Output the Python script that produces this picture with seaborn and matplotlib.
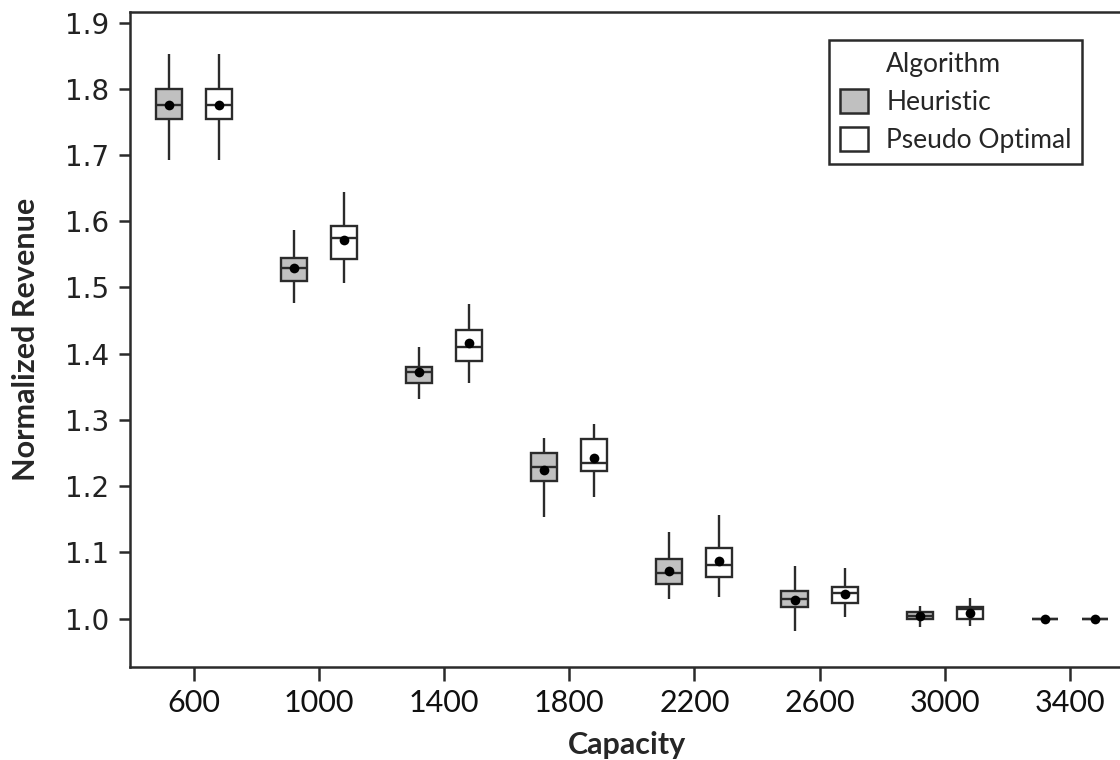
import numpy as np
import pandas as pd
import matplotlib
matplotlib.use("Agg")
import matplotlib.pyplot as plt
from matplotlib.patches import Patch
import seaborn as sns

# capacity levels on the x axis
capacities = [600, 1000, 1400, 1800, 2200, 2600, 3000, 3400]
algorithms = ["Heuristic", "Pseudo Optimal"]

# box summaries (whisker low, q1, median, q3, whisker high, mean)
heur_low = [1.693, 1.476, 1.331, 1.153, 1.029, 0.981, 0.987, 1.000]
heur_q1 = [1.755, 1.510, 1.356, 1.208, 1.052, 1.018, 0.999, 1.000]
heur_median = [1.776, 1.529, 1.372, 1.229, 1.069, 1.030, 1.004, 1.000]
heur_q3 = [1.800, 1.544, 1.380, 1.250, 1.090, 1.042, 1.010, 1.000]
heur_high = [1.852, 1.587, 1.410, 1.272, 1.130, 1.079, 1.019, 1.000]
heur_mean = [1.776, 1.529, 1.372, 1.224, 1.072, 1.028, 1.004, 1.000]

pseudo_low = [1.693, 1.506, 1.355, 1.183, 1.032, 1.002, 0.989, 1.000]
pseudo_q1 = [1.755, 1.543, 1.389, 1.223, 1.063, 1.024, 0.999, 1.000]
pseudo_median = [1.776, 1.574, 1.410, 1.235, 1.081, 1.039, 1.014, 1.000]
pseudo_q3 = [1.800, 1.592, 1.435, 1.271, 1.106, 1.048, 1.018, 1.000]
pseudo_high = [1.852, 1.644, 1.475, 1.293, 1.157, 1.076, 1.031, 1.000]
pseudo_mean = [1.775, 1.572, 1.416, 1.243, 1.087, 1.037, 1.009, 1.000]

y_ticks = [1.0, 1.1, 1.2, 1.3, 1.4, 1.5, 1.6, 1.7, 1.8, 1.9]

# five values per box -> quartiles land exactly on q1/median/q3
rows = []
summaries = {
    "Heuristic": (heur_low, heur_q1, heur_median, heur_q3, heur_high),
    "Pseudo Optimal": (pseudo_low, pseudo_q1, pseudo_median, pseudo_q3, pseudo_high),
}
for alg, parts in summaries.items():
    for i, cap in enumerate(capacities):
        for p in parts:
            rows.append({"Capacity": cap, "Algorithm": alg, "Revenue": p[i]})
df = pd.DataFrame(rows)

means = pd.DataFrame({
    "Capacity": capacities * 2,
    "Algorithm": ["Heuristic"] * len(capacities) + ["Pseudo Optimal"] * len(capacities),
    "Revenue": heur_mean + pseudo_mean,
})

sns.set_style("ticks")
plt.rcParams["font.family"] = ["Lato", "DejaVu Sans"]
edge = "#2b2b2b"
fills = {"Heuristic": "#c0c0c0", "Pseudo Optimal": "white"}

fig = plt.figure(figsize=(11.2, 7.6), dpi=100)
ax = fig.add_axes([130 / 1120, 1 - 667 / 760, (1124 - 130) / 1120, (667 - 12) / 760])

sns.boxplot(data=df, x="Capacity", y="Revenue", hue="Algorithm",
            order=capacities, hue_order=algorithms, palette=fills,
            width=0.8, gap=0.48, dodge=True, whis=(0, 100), showcaps=False,
            fliersize=0, linecolor=edge, linewidth=1.7, legend=False, ax=ax)
sns.stripplot(data=means, x="Capacity", y="Revenue", hue="Algorithm",
              order=capacities, hue_order=algorithms,
              palette={"Heuristic": "black", "Pseudo Optimal": "black"},
              dodge=True, jitter=False, size=7, linewidth=0,
              legend=False, zorder=5, ax=ax)

ax.set_xlim(-0.512, 7.434)
ax.set_ylim(0.9268, 1.9159)
ax.set_yticks(y_ticks)
ax.set_yticklabels([f"{t:.1f}" for t in y_ticks], family="DejaVu Sans", fontsize=20, color="#222222")
for lab in ax.get_xticklabels():
    lab.set_fontsize(22)
    lab.set_color("#111111")
ax.tick_params(axis="y", length=8, width=1.8, color=edge, pad=7)
ax.tick_params(axis="x", length=10, width=1.8, color=edge, pad=6)
for sp in ax.spines.values():
    sp.set_linewidth(1.8)
    sp.set_color(edge)

ax.set_xlabel("Capacity", fontsize=22, fontweight="bold", labelpad=10)
ax.set_ylabel("Normalized Revenue", fontsize=22, fontweight="bold", labelpad=18)

handles = [Patch(facecolor="none", edgecolor="none", label="Algorithm")]
for alg in algorithms:
    handles.append(Patch(facecolor=fills[alg], edgecolor=edge, linewidth=1.8, label=alg))
leg = ax.legend(handles=handles, loc="upper right", bbox_to_anchor=(0.958, 0.957),
                borderaxespad=0, fontsize=19, frameon=True, fancybox=False,
                framealpha=1, edgecolor=edge, handlelength=1.05, handleheight=1.05,
                handletextpad=0.7, labelspacing=0.45, borderpad=0.4)
leg.get_frame().set_linewidth(1.8)

fig.savefig("out.png", dpi=100)
